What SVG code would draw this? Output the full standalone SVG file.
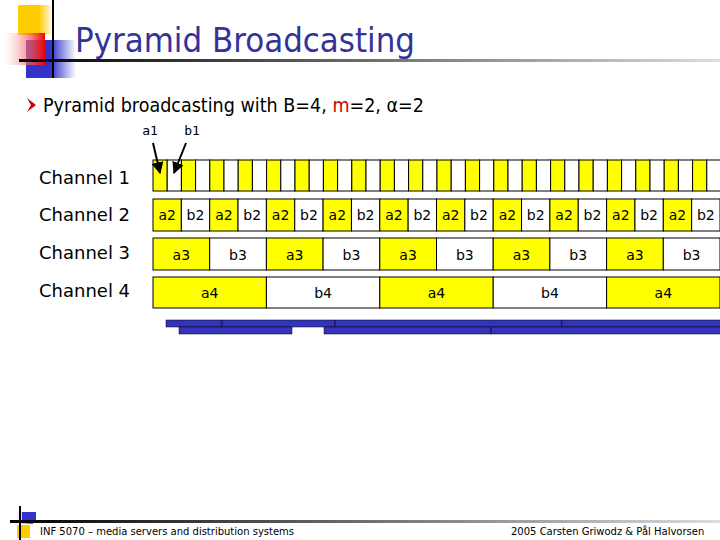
<svg xmlns="http://www.w3.org/2000/svg" width="720" height="540" viewBox="0 0 720 540">
<defs>
<linearGradient id="hl" x1="0" x2="1"><stop offset="0" stop-color="#000"/><stop offset="1" stop-color="#ddd"/></linearGradient>
<linearGradient id="red" x1="1" x2="0"><stop offset="0" stop-color="#e00"/><stop offset="1" stop-color="#fff" stop-opacity="0.2"/></linearGradient>
<linearGradient id="blu" x1="0" x2="1"><stop offset="0.5" stop-color="#3333cc"/><stop offset="1" stop-color="#fff"/></linearGradient>
<linearGradient id="yel" x1="0" x2="1"><stop offset="0.6" stop-color="#fc0"/><stop offset="1" stop-color="#fff"/></linearGradient>
<marker id="ar" viewBox="0 0 10 10" refX="9" refY="5" markerWidth="6" markerHeight="6" orient="auto"><path d="M0,0L10,5L0,10z" fill="#000"/></marker>
</defs>
<style>
text{font-family:"DejaVu Sans","Liberation Sans",sans-serif}
.y{fill:#ffff00;stroke:#000;stroke-width:1}
.w{fill:#fff;stroke:#000;stroke-width:1}
.c{font-size:14px;text-anchor:middle;fill:#000}
.b{fill:#3333bb;stroke:#000;stroke-width:0.5}
.ch{font-size:18px}
</style>
<g id="deco">
<rect x="18" y="5" width="35" height="30" fill="url(#yel)"/>
<rect x="26" y="40" width="50" height="38" fill="url(#blu)"/>
<rect x="2" y="33" width="43" height="32" fill="url(#red)"/>
<line x1="53" y1="0" x2="53" y2="78" stroke="#000" stroke-width="2"/>
<rect x="19" y="59" width="701" height="3" fill="url(#hl)"/>
</g>
<text x="75" y="52" font-size="34" fill="#333399" textLength="340" lengthAdjust="spacingAndGlyphs">Pyramid Broadcasting</text>
<path d="M27,98 L36,105 L27,112 L31,105z" fill="#c00"/>
<text x="43" y="112" font-size="19" textLength="381" lengthAdjust="spacingAndGlyphs">Pyramid broadcasting with B=4, <tspan fill="#c00">m</tspan>=2, α=2</text>
<text x="150" y="135" font-size="13" text-anchor="middle" style="font-family:'DejaVu Sans Mono',monospace">a1</text>
<text x="192" y="135" font-size="13" text-anchor="middle" style="font-family:'DejaVu Sans Mono',monospace">b1</text>
<g id="labels" class="ch">
<text x="39" y="184">Channel 1</text>
<text x="39" y="221">Channel 2</text>
<text x="39" y="259">Channel 3</text>
<text x="39" y="297">Channel 4</text>
</g>
<g id="ch1">
<rect class="y" x="153.0" y="160" width="14.2" height="31"/><rect class="w" x="167.2" y="160" width="14.2" height="31"/><rect class="y" x="181.4" y="160" width="14.2" height="31"/><rect class="w" x="195.6" y="160" width="14.2" height="31"/><rect class="y" x="209.8" y="160" width="14.2" height="31"/><rect class="w" x="224.0" y="160" width="14.2" height="31"/><rect class="y" x="238.2" y="160" width="14.2" height="31"/><rect class="w" x="252.4" y="160" width="14.2" height="31"/><rect class="y" x="266.6" y="160" width="14.2" height="31"/><rect class="w" x="280.8" y="160" width="14.2" height="31"/><rect class="y" x="295.0" y="160" width="14.2" height="31"/><rect class="w" x="309.2" y="160" width="14.2" height="31"/><rect class="y" x="323.4" y="160" width="14.2" height="31"/><rect class="w" x="337.6" y="160" width="14.2" height="31"/><rect class="y" x="351.8" y="160" width="14.2" height="31"/><rect class="w" x="366.0" y="160" width="14.2" height="31"/><rect class="y" x="380.2" y="160" width="14.2" height="31"/><rect class="w" x="394.4" y="160" width="14.2" height="31"/><rect class="y" x="408.6" y="160" width="14.2" height="31"/><rect class="w" x="422.8" y="160" width="14.2" height="31"/><rect class="y" x="437.0" y="160" width="14.2" height="31"/><rect class="w" x="451.2" y="160" width="14.2" height="31"/><rect class="y" x="465.4" y="160" width="14.2" height="31"/><rect class="w" x="479.6" y="160" width="14.2" height="31"/><rect class="y" x="493.8" y="160" width="14.2" height="31"/><rect class="w" x="508.0" y="160" width="14.2" height="31"/><rect class="y" x="522.2" y="160" width="14.2" height="31"/><rect class="w" x="536.4" y="160" width="14.2" height="31"/><rect class="y" x="550.6" y="160" width="14.2" height="31"/><rect class="w" x="564.8" y="160" width="14.2" height="31"/><rect class="y" x="579.0" y="160" width="14.2" height="31"/><rect class="w" x="593.2" y="160" width="14.2" height="31"/><rect class="y" x="607.4" y="160" width="14.2" height="31"/><rect class="w" x="621.6" y="160" width="14.2" height="31"/><rect class="y" x="635.8" y="160" width="14.2" height="31"/><rect class="w" x="650.0" y="160" width="14.2" height="31"/><rect class="y" x="664.2" y="160" width="14.2" height="31"/><rect class="w" x="678.4" y="160" width="14.2" height="31"/><rect class="y" x="692.6" y="160" width="14.2" height="31"/><rect class="w" x="706.8" y="160" width="14.2" height="31"/>
</g>
<g id="ch2">
<rect class="y" x="153" y="199" width="28.35" height="32"/><text class="c" x="167.2" y="220">a2</text>
<rect class="w" x="181.35" y="199" width="28.35" height="32"/><text class="c" x="195.5" y="220">b2</text>
<rect class="y" x="209.7" y="199" width="28.35" height="32"/><text class="c" x="223.9" y="220">a2</text>
<rect class="w" x="238.05" y="199" width="28.35" height="32"/><text class="c" x="252.2" y="220">b2</text>
<rect class="y" x="266.4" y="199" width="28.35" height="32"/><text class="c" x="280.6" y="220">a2</text>
<rect class="w" x="294.75" y="199" width="28.35" height="32"/><text class="c" x="308.9" y="220">b2</text>
<rect class="y" x="323.1" y="199" width="28.35" height="32"/><text class="c" x="337.3" y="220">a2</text>
<rect class="w" x="351.45" y="199" width="28.35" height="32"/><text class="c" x="365.6" y="220">b2</text>
<rect class="y" x="379.8" y="199" width="28.35" height="32"/><text class="c" x="394.0" y="220">a2</text>
<rect class="w" x="408.15" y="199" width="28.35" height="32"/><text class="c" x="422.3" y="220">b2</text>
<rect class="y" x="436.5" y="199" width="28.35" height="32"/><text class="c" x="450.7" y="220">a2</text>
<rect class="w" x="464.85" y="199" width="28.35" height="32"/><text class="c" x="479.0" y="220">b2</text>
<rect class="y" x="493.2" y="199" width="28.35" height="32"/><text class="c" x="507.4" y="220">a2</text>
<rect class="w" x="521.55" y="199" width="28.35" height="32"/><text class="c" x="535.7" y="220">b2</text>
<rect class="y" x="549.9" y="199" width="28.35" height="32"/><text class="c" x="564.1" y="220">a2</text>
<rect class="w" x="578.25" y="199" width="28.35" height="32"/><text class="c" x="592.4" y="220">b2</text>
<rect class="y" x="606.6" y="199" width="28.35" height="32"/><text class="c" x="620.8" y="220">a2</text>
<rect class="w" x="634.95" y="199" width="28.35" height="32"/><text class="c" x="649.1" y="220">b2</text>
<rect class="y" x="663.3" y="199" width="28.35" height="32"/><text class="c" x="677.5" y="220">a2</text>
<rect class="w" x="691.65" y="199" width="28.35" height="32"/><text class="c" x="705.8" y="220">b2</text>
</g>
<g id="ch3">
<rect class="y" x="153" y="238" width="56.7" height="32"/><text class="c" x="181.3" y="260">a3</text>
<rect class="w" x="209.7" y="238" width="56.7" height="32"/><text class="c" x="238.0" y="260">b3</text>
<rect class="y" x="266.4" y="238" width="56.7" height="32"/><text class="c" x="294.7" y="260">a3</text>
<rect class="w" x="323.1" y="238" width="56.7" height="32"/><text class="c" x="351.4" y="260">b3</text>
<rect class="y" x="379.8" y="238" width="56.7" height="32"/><text class="c" x="408.1" y="260">a3</text>
<rect class="w" x="436.5" y="238" width="56.7" height="32"/><text class="c" x="464.8" y="260">b3</text>
<rect class="y" x="493.2" y="238" width="56.7" height="32"/><text class="c" x="521.5" y="260">a3</text>
<rect class="w" x="549.9" y="238" width="56.7" height="32"/><text class="c" x="578.2" y="260">b3</text>
<rect class="y" x="606.6" y="238" width="56.7" height="32"/><text class="c" x="634.9" y="260">a3</text>
<rect class="w" x="663.3" y="238" width="56.7" height="32"/><text class="c" x="691.6" y="260">b3</text>
</g>
<g id="ch4">
<rect class="y" x="153" y="277" width="113.4" height="31"/><text class="c" x="209.7" y="298">a4</text>
<rect class="w" x="266.4" y="277" width="113.4" height="31"/><text class="c" x="323.1" y="298">b4</text>
<rect class="y" x="379.8" y="277" width="113.4" height="31"/><text class="c" x="436.5" y="298">a4</text>
<rect class="w" x="493.2" y="277" width="113.4" height="31"/><text class="c" x="549.9" y="298">b4</text>
<rect class="y" x="606.6" y="277" width="113.4" height="31"/><text class="c" x="663.3" y="298">a4</text>
</g>
<g id="bars">
<rect class="b" x="166" y="320" width="56" height="7"/><rect class="b" x="222" y="320" width="113" height="7"/><rect class="b" x="335" y="320" width="227" height="7"/><rect class="b" x="562" y="320" width="160" height="7"/>
<rect class="b" x="179" y="327" width="113" height="7"/><rect class="b" x="324" y="327" width="167" height="7"/><rect class="b" x="491" y="327" width="231" height="7"/>
</g>
<g id="connectors" stroke="#000" stroke-width="2" fill="none">
<line x1="153" y1="143" x2="160" y2="173" marker-end="url(#ar)"/>
<line x1="186" y1="143" x2="174" y2="173" marker-end="url(#ar)"/>
</g>
<g id="footer">
<rect x="15" y="512" width="18" height="12" fill="url(#red)"/>
<rect x="17" y="525" width="13" height="13" fill="#fc0"/>
<rect x="22" y="512" width="14" height="10" fill="#3333cc"/>
<line x1="20" y1="506" x2="20" y2="540" stroke="#000" stroke-width="2"/>
<rect x="10" y="520" width="710" height="3" fill="url(#hl)"/>
<text x="40" y="535" font-size="10" fill="#000">INF 5070 – media servers and distribution systems</text>
<text x="511" y="535" font-size="10" fill="#000">2005  Carsten Griwodz &amp; Pål Halvorsen</text>
</g>
</svg>
